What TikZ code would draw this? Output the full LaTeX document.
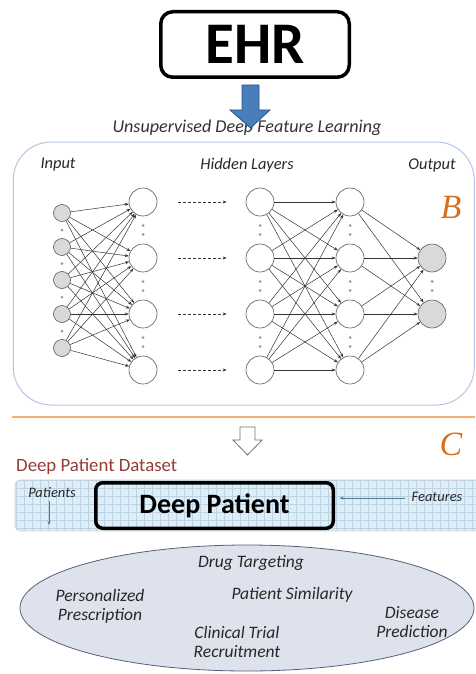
\documentclass[tikz,border=0pt]{standalone}
\usepackage{fontspec}
\setmainfont{Carlito}
\newfontfamily\serifface{Liberation Serif}
\usetikzlibrary{shapes.geometric,arrows.meta}
\newcommand\myfs[2]{\fontsize{#1}{#2}\selectfont}
\definecolor{frameblue}{RGB}{180,198,231}
\definecolor{orangeB}{RGB}{217,112,30}
\definecolor{sepline}{RGB}{240,176,112}
\definecolor{arrowblue}{RGB}{74,126,187}
\definecolor{arrowdark}{RGB}{47,82,143}
\definecolor{dsred}{RGB}{150,60,55}
\definecolor{bandfill}{RGB}{222,237,246}
\definecolor{gridc}{RGB}{185,211,228}
\definecolor{teal}{RGB}{79,127,143}
\definecolor{ellfill}{RGB}{222,226,236}
\definecolor{elldraw}{RGB}{85,96,122}
\definecolor{txt}{RGB}{40,40,40}
\begin{document}
\begin{tikzpicture}[x=1pt,y=-1pt,
  inpnode/.style={circle,draw=black!65,line width=0.6pt,fill=black!15,minimum size=17pt,inner sep=0},
  hidnode/.style={circle,draw=black!65,line width=0.6pt,fill=white,minimum size=28pt,inner sep=0},
  outnode/.style={circle,draw=black!65,line width=0.6pt,fill=black!15,minimum size=28pt,inner sep=0},
  edge/.style={draw=black!80,line width=0.5pt,-{Stealth[length=4pt,width=3pt]}},
  dasharrow/.style={draw=black!80,line width=0.6pt,dashed,dash pattern=on 3pt off 2pt,-{Stealth[length=4pt,width=3pt]}},
  vdot/.style={circle,fill=black!40,inner sep=0,minimum size=3pt},
  lab/.style={font=\myfs{16.4}{19}\itshape,text=txt,inner sep=0},
  elltxt/.style={font=\myfs{17.5}{18.5}\itshape,text=txt,align=center,inner sep=0},
  letter/.style={font=\serifface\itshape\myfs{34}{34},text=orangeB,inner sep=0},
  smallarrow/.style={draw=teal,line width=0.7pt,-{Stealth[length=4pt,width=3pt]}}
]
\useasboundingbox (0,0) rectangle (475,674);
\fill[white] (0,0) rectangle (475,674);

% EHR
\node[draw,line width=3.5pt,rounded corners=12pt,minimum width=188.5pt,minimum height=65.5pt,
      font=\bfseries\myfs{59}{59},inner sep=0] (ehr) at (255,44.5) {EHR};

% title
\node[font=\myfs{18.1}{20}\itshape,text=black!80,inner sep=0] (usdl) at (247,128) {Unsupervised Deep Feature Learning};

% blue arrow
\draw[fill=arrowblue,draw=arrowdark,line width=0.8pt]
  (242,85) -- (259,85) -- (259,110) -- (270,110) -- (250.5,128) -- (230,110) -- (242,110) -- cycle;

% frame B
\node[draw=frameblue,line width=1pt,rounded corners=38pt,minimum width=461pt,minimum height=263pt,inner sep=0] (frameB) at (243.75,273.5) {};

\node[lab] (linput) at (58,165) {Input};
\node[lab] (lhidden) at (247,165) {Hidden Layers};
\node[lab] (loutput) at (432,165) {Output};
\node[letter] (labB) at (451,207) {B};

% network nodes
\foreach \n/\y in {1/213,2/247,3/280,4/314,5/348}
  \node[inpnode] (i\n) at (62,\y) {};
\foreach \n/\y in {1/202,2/258,3/314,4/370}{
  \node[hidnode] (a\n) at (143,\y) {};
  \node[hidnode] (b\n) at (260,\y) {};
  \node[hidnode] (c\n) at (350,\y) {};
}
\node[outnode] (o1) at (432,258) {};
\node[outnode] (o2) at (432,314) {};

% dots
\foreach \y in {230,263.5,297,331}
  \node[vdot] at (62,\y) {};
\foreach \m in {230,286,342}
  \foreach \x in {143,260,350}{
    \node[vdot] at (\x,\m-4.5) {};
    \node[vdot] at (\x,\m+4.5) {};
  }
\node[vdot] at (432,281.5) {};
\node[vdot] at (432,290.5) {};

% edges
\foreach \s in {1,...,5}
  \foreach \t in {1,...,4}
    \draw[edge] (i\s) -- (a\t);
\foreach \s in {1,...,4}
  \foreach \t in {1,...,4}
    \draw[edge] (b\s) -- (c\t);
\foreach \s in {1,...,4}
  \foreach \t in {1,2}
    \draw[edge] (c\s) -- (o\t);
\foreach \t in {1,...,4}
  \draw[dasharrow,shorten <=21pt,shorten >=19pt] (a\t) -- (b\t);

% separator
\draw[sepline,line width=1.2pt] (12,417) -- (475,417);

% white arrow
\draw[fill=white,draw=black!55,line width=0.8pt]
  (240,427) -- (255,427) -- (255,440) -- (262,440) -- (247.5,455) -- (233,440) -- (240,440) -- cycle;
\node[letter] (labC) at (451,444) {C};

\node[font=\myfs{18.8}{20},text=dsred,anchor=west,inner sep=0] (dsl) at (16,467) {Deep Patient Dataset};

% band
\begin{scope}
  \clip[rounded corners=5pt] (15,480) rectangle (485,531);
  \fill[bandfill] (15,480) rectangle (485,531);
  \draw[gridc,line width=0.5pt,step=8pt] (15,480) grid (485,531);
\end{scope}
\draw[black!18,line width=0.7pt,rounded corners=5pt] (485,480) -- (15,480) -- (15,531) -- (485,531);

% Deep Patient box
\node[draw,line width=3.5pt,rounded corners=7pt,minimum width=237.5pt,minimum height=45.5pt,
      font=\bfseries\myfs{28}{28},inner sep=0] (dp) at (214.5,505.5) {Deep Patient};

\node[font=\myfs{14.5}{16}\itshape,text=txt,inner sep=0] (pat) at (52,493) {Patients};
\coordinate (pa1) at (49,501);
\coordinate (pa2) at (49,525);
\draw[smallarrow] (pa1) -- (pa2);
\node[font=\myfs{14.5}{16}\itshape,text=txt,inner sep=0] (feat) at (437,497) {Features};
\coordinate (fa) at (405,498);
\draw[smallarrow,shorten >=4.5pt] (fa) -- (dp.east |- fa);

% applications ellipse
\node[ellipse,draw=elldraw,fill=ellfill,line width=0.8pt,minimum width=454pt,minimum height=126pt,inner sep=0] (apps) at (247,608) {};
\node[elltxt] (drug) at (251,563) {Drug Targeting};
\node[elltxt] (pers) at (100,606.5) {Personalized\\Prescription};
\node[elltxt] (sim) at (292,595) {Patient Similarity};
\node[elltxt] (dis) at (412,622) {Disease\\Prediction};
\node[elltxt] (clin) at (237,642) {Clinical Trial\\Recruitment};
\end{tikzpicture}
\end{document}
